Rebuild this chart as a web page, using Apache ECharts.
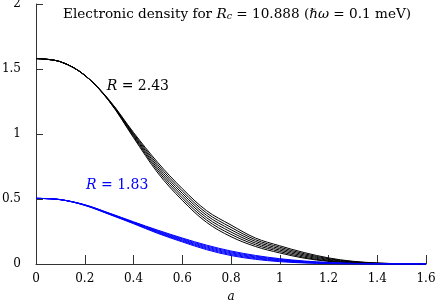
<!DOCTYPE html>
<html><head><meta charset="utf-8">
<script src="https://cdn.jsdelivr.net/npm/echarts@6/dist/echarts.min.js"></script>
<style>html,body{margin:0;padding:0;background:#fff}#c{width:436px;height:305px}</style>
</head><body><div id="c"></div>
<script>
const xs = [0,0.1,0.2,0.3,0.4,0.5,0.6,0.7,0.8,0.9,1.0,1.1,1.2,1.3,1.4,1.5,1.6];
const black1 = [1.58,1.556,1.452,1.262,1.012,0.78,0.58,0.41,0.30,0.20,0.14,0.088,0.047,0.021,0.008,0.002,0];
const black2 = [1.58,1.556,1.452,1.26,1.004,0.764,0.562,0.392,0.282,0.187,0.129,0.079,0.041,0.018,0.0066,0.0016,0];
const black3 = [1.58,1.556,1.452,1.258,0.996,0.748,0.544,0.374,0.264,0.174,0.118,0.07,0.035,0.015,0.0052,0.0012,0];
const black4 = [1.58,1.556,1.452,1.256,0.988,0.732,0.526,0.356,0.246,0.161,0.107,0.061,0.029,0.012,0.0038,0.0008,0];
const black5 = [1.58,1.556,1.452,1.254,0.98,0.716,0.508,0.338,0.228,0.148,0.096,0.052,0.023,0.009,0.0024,0.0004,0];
const black6 = [1.58,1.556,1.452,1.252,0.972,0.70,0.49,0.32,0.21,0.135,0.085,0.045,0.02,0.008,0.002,0,0];
const blue1 = [0.505,0.495,0.456,0.392,0.325,0.26,0.20,0.145,0.10,0.066,0.041,0.023,0.012,0.005,0.002,0,0];
const blue2 = [0.505,0.495,0.455,0.390,0.322,0.255,0.194,0.138,0.093,0.060,0.036,0.020,0.010,0.0042,0.0016,0,0];
const blue3 = [0.505,0.495,0.454,0.388,0.319,0.250,0.188,0.131,0.086,0.054,0.032,0.017,0.0082,0.0034,0.0012,0,0];
const blue4 = [0.505,0.495,0.453,0.386,0.316,0.245,0.182,0.124,0.079,0.048,0.027,0.014,0.0064,0.0026,0.0008,0,0];
const blue5 = [0.505,0.495,0.452,0.384,0.313,0.240,0.176,0.117,0.072,0.042,0.023,0.011,0.0046,0.0018,0.0004,0,0];
const blue6 = [0.505,0.495,0.451,0.382,0.31,0.235,0.17,0.11,0.065,0.036,0.018,0.008,0.003,0.001,0,0,0];
const blackCurves = [black1,black2,black3,black4,black5,black6];
const blueCurves = [blue1,blue2,blue3,blue4,blue5,blue6];
const xTicks = [0,0.2,0.4,0.6,0.8,1,1.2,1.4,1.6];
const yTicks = [0,0.5,1,1.5,2];
const labelBlack = {x:0.29, y:1.354, text:'2.43'};
const labelBlue = {x:0.205, y:0.59, text:'1.83'};

const FONT = '"DejaVu Serif", "Liberation Serif", serif';
const chart = echarts.init(document.getElementById('c'), null, {renderer:'canvas'});
function mk(arr, color){
  return {type:'line', data: xs.map((x,i)=>[x,arr[i]]), showSymbol:false, smooth:0.35,
    lineStyle:{color:color, width:1}, silent:true, animation:false};
}
const series = [];
blackCurves.forEach(c=>series.push(mk(c,'#000')));
blueCurves.forEach(c=>series.push(mk(c,'#0000ff')));
const axisCol = '#333';
chart.setOption({
  animation:false,
  grid:{left:36, right:10, top:4, bottom:41, outerBoundsMode:'none', containLabel:false},
  title:{
    left:58, top:1,
    text:'{n|Electronic density for }{i|R}{s|c}{n| = 10.888 (}{i|ℏω}{n| = 0.1 meV)}',
    textStyle:{fontWeight:'normal', rich:{
      n:{fontFamily:FONT, fontSize:13.6, fontWeight:'normal', color:'#000'},
      i:{fontFamily:FONT, fontSize:13.6, fontWeight:'normal', fontStyle:'italic', color:'#000'},
      s:{fontFamily:FONT, fontSize:9.5, fontWeight:'normal', fontStyle:'italic', color:'#000', verticalAlign:'bottom', padding:[6,0,0,0]}
    }}
  },
  xAxis:{type:'value', min:0, max:1.6, interval:0.2,
    name:'a', nameLocation:'middle', nameGap:27,
    nameTextStyle:{fontFamily:FONT, fontStyle:'italic', fontSize:12, color:'#000'},
    axisLine:{lineStyle:{color:axisCol, width:1}},
    axisTick:{inside:true, length:9, lineStyle:{color:axisCol}},
    axisLabel:{fontFamily:FONT, fontSize:12, color:'#000', margin:9,
      formatter:v=>xTicks.some(t=>Math.abs(t-v)<1e-9)?String(+v.toFixed(1)):''},
    splitLine:{show:false}},
  yAxis:{type:'value', min:0, max:2, interval:0.5,
    axisLine:{show:true, lineStyle:{color:axisCol, width:1}},
    axisTick:{show:true, inside:true, length:7, lineStyle:{color:axisCol}},
    axisLabel:{fontFamily:FONT, fontSize:12, color:'#000', margin:15,
      formatter:v=>yTicks.some(t=>Math.abs(t-v)<1e-9)?String(+v.toFixed(1)):''},
    splitLine:{show:false}},
  series:series
});
function lab(l, color){
  const p = chart.convertToPixel({gridIndex:0},[l.x,l.y]);
  return {type:'text', left:p[0], top:p[1]-9, silent:true,
    style:{text:'{i|R}{n| = '+l.text+'}', fill:color,
      rich:{i:{fontFamily:FONT,fontSize:14,fontStyle:'italic',fill:color,color:color},
            n:{fontFamily:FONT,fontSize:14,fill:color,color:color}}}};
}
chart.setOption({graphic:[lab(labelBlack,'#000'), lab(labelBlue,'#0000ff')]});
</script></body></html>
